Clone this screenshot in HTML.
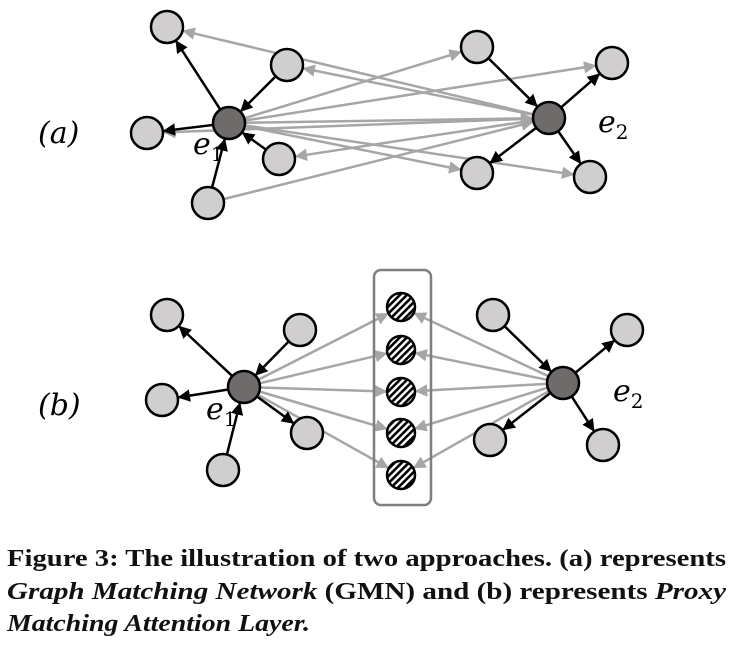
<!DOCTYPE html>
<html><head><meta charset="utf-8"><style>
html,body{margin:0;padding:0;background:#fff;}
svg{display:block}
</style></head><body>
<svg id="s" width="735" height="656" viewBox="0 0 735 656" xmlns="http://www.w3.org/2000/svg">
<defs>
<marker id="ab" viewBox="0 0 10 10" refX="9" refY="5" markerWidth="5" markerHeight="5" orient="auto" markerUnits="strokeWidth"><path d="M0,0L10,5L0,10z" fill="#000"/></marker>
<marker id="ag" viewBox="0 0 10 10" refX="9" refY="5" markerWidth="5" markerHeight="5" orient="auto" markerUnits="strokeWidth"><path d="M0,0L10,5L0,10z" fill="#a6a6a6"/></marker>
<pattern id="st" width="5" height="5" patternUnits="userSpaceOnUse" patternTransform="rotate(45)"><rect width="5" height="5" fill="#fff"/><rect width="2.6" height="5" fill="#000"/></pattern>
</defs>
<g id="edges"></g>
<g id="nodes"></g>
<rect x="374" y="270" width="57" height="235" rx="7" fill="none" stroke="#7f7f7f" stroke-width="2.5"/>
<g font-family="'DejaVu Serif','Liberation Serif',serif" font-style="italic" font-size="30" fill="#000">
<text x="38" y="143">(a)</text>
<text x="38" y="415">(b)</text>
<text x="193" y="154">e<tspan font-size="20" dy="7" font-style="normal">1</tspan></text>
<text x="598" y="132">e<tspan font-size="20" dy="7" font-style="normal">2</tspan></text>
<text x="206" y="419">e<tspan font-size="20" dy="7" font-style="normal">1</tspan></text>
<text x="613" y="401">e<tspan font-size="20" dy="7" font-style="normal">2</tspan></text>
</g>
<g font-family="'Liberation Serif',serif" font-weight="bold" font-size="24" fill="#111">
<text x="7" y="566" textLength="719" lengthAdjust="spacingAndGlyphs">Figure 3: The illustration of two approaches. (a) represents</text>
<text x="7" y="599" textLength="719" lengthAdjust="spacingAndGlyphs"><tspan font-style="italic">Graph Matching Network</tspan> (GMN) and (b) represents <tspan font-style="italic">Proxy</tspan></text>
<text x="7" y="631" textLength="303" lengthAdjust="spacingAndGlyphs" font-style="italic">Matching Attention Layer.</text>
</g>
</svg>
<script>
var NS="http://www.w3.org/2000/svg",E=document.getElementById("edges"),N=document.getElementById("nodes");
function node(x,y,f,r){var c=document.createElementNS(NS,"circle");c.setAttribute("cx",x);c.setAttribute("cy",y);c.setAttribute("r",r||16);c.setAttribute("fill",f);c.setAttribute("stroke","#000");c.setAttribute("stroke-width","2.5");N.appendChild(c);}
function arr(a,b,g){var dx=b[0]-a[0],dy=b[1]-a[1],d=Math.hypot(dx,dy),ux=dx/d,uy=dy/d,ra=a[2]||16,rb=b[2]||16;
var l=document.createElementNS(NS,"line");l.setAttribute("x1",a[0]+ux*ra);l.setAttribute("y1",a[1]+uy*ra);l.setAttribute("x2",b[0]-ux*(rb+1));l.setAttribute("y2",b[1]-uy*(rb+1));
l.setAttribute("stroke",g?"#a6a6a6":"#000");l.setAttribute("stroke-width","2.5");l.setAttribute("marker-end",g?"url(#ag)":"url(#ab)");E.appendChild(l);}
var e1=[229,123],e2=[549,118];
var L=[[167,27],[287,65],[147,133],[279,159],[208,203]],R=[[477,47],[612,63],[477,173],[590,177]];
arr(e2,L[0],1);arr(e2,L[1],1);arr(e1,R[0],1);arr(e1,R[1],1);arr(e2,L[2],1);arr(e2,L[3],1);arr(L[4],e2,1);arr(e1,R[2],1);arr(e1,R[3],1);arr(e1,e2,1);
arr(e1,L[0]);arr(L[1],e1);arr(e1,L[2]);arr(L[3],e1);arr(L[4],e1);
arr(R[0],e2);arr(e2,R[1]);arr(e2,R[2]);arr(e2,R[3]);
L.concat(R).forEach(function(p){node(p[0],p[1],"#d0cece");});
node(e1[0],e1[1],"#706b6b");node(e2[0],e2[1],"#706b6b");
var f1=[244,387],f2=[563,383];
var L2=[[167,315],[300,330],[162,400],[307,433],[223,470]],R2=[[493,315],[627,330],[490,440],[603,445]];
var P=[307,350,392,433,475].map(function(y){return [401,y,14];});
P.forEach(function(p){arr(f1,p,1);arr(f2,p,1);});
arr(f1,L2[0]);arr(L2[1],f1);arr(f1,L2[2]);arr(f1,L2[3]);arr(L2[4],f1);
arr(R2[0],f2);arr(f2,R2[1]);arr(f2,R2[2]);arr(f2,R2[3]);
L2.concat(R2).forEach(function(p){node(p[0],p[1],"#d0cece");});
node(f1[0],f1[1],"#706b6b");node(f2[0],f2[1],"#706b6b");
P.forEach(function(p){node(p[0],p[1],"url(#st)",14);});
</script>
</body></html>
